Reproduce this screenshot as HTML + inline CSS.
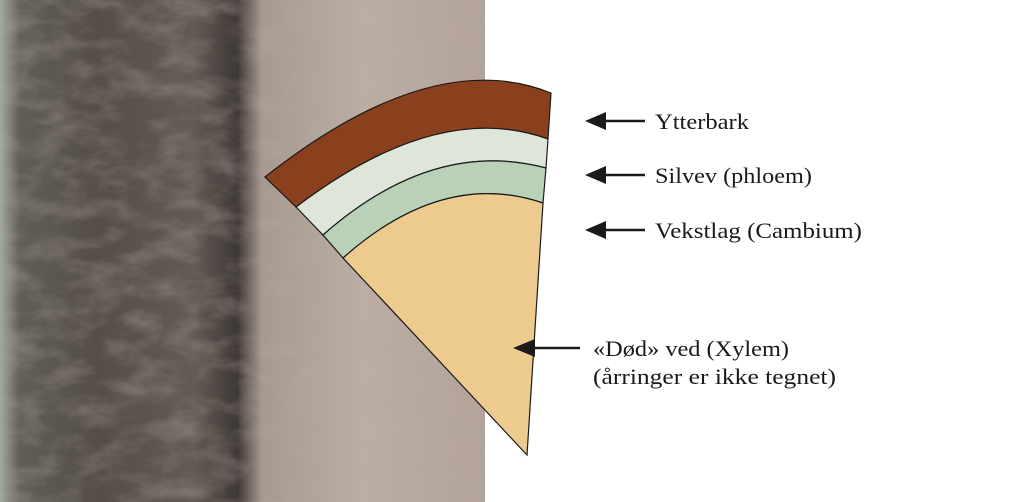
<!DOCTYPE html>
<html><head><meta charset="utf-8"><style>
html,body{margin:0;padding:0;background:#fff;width:1020px;height:502px;overflow:hidden}
svg{display:block}
text{font-family:"Liberation Serif",serif;font-size:22px;fill:#1a1a1a}
</style></head><body>
<svg width="1020" height="502" viewBox="0 0 1020 502" xmlns="http://www.w3.org/2000/svg">
<defs>
<linearGradient id="bark" x1="0" y1="0" x2="1" y2="0">
<stop offset="0" stop-color="#a0aa9e"/>
<stop offset="0.04" stop-color="#625d57"/>
<stop offset="0.2" stop-color="#554e48"/>
<stop offset="0.4" stop-color="#635a54"/>
<stop offset="0.49" stop-color="#3e3835"/>
<stop offset="0.54" stop-color="#a8998f"/>
<stop offset="0.75" stop-color="#bcaea4"/>
<stop offset="1" stop-color="#b3a399"/>
</linearGradient>
<filter id="tex" x="0" y="0" width="1" height="1">
<feTurbulence type="fractalNoise" baseFrequency="0.025 0.05" numOctaves="4" seed="3"/>
<feColorMatrix type="matrix" values="0 0 0 0 0.45  0 0 0 0 0.4  0 0 0 0 0.37  0 0 0 1.4 -0.55"/>
</filter>
</defs>
<rect x="0" y="0" width="485" height="502" fill="url(#bark)"/>
<rect x="0" y="0" width="485" height="502" filter="url(#tex)" opacity="0.55"/>
<g stroke="#1a1a1a" stroke-width="1.2">
<path d="M265,177 Q432,45 551,93 L548,139 Q438,99 296,207 Z" fill="#8a401c"/>
<path d="M296,207 Q438,99 548,139 L546,168 Q433,138 323,235 Z" fill="#dde6d9"/>
<path d="M323,235 Q433,138 546,168 L543,203 Q443,169 343,258 Z" fill="#b9d1b6"/>
<path d="M343,258 Q443,169 543,203 L527,455 Z" fill="#edcb8f"/>
</g>
<g fill="#1a1a1a" stroke="#1a1a1a" stroke-width="2.5">
<line x1="600" y1="121" x2="645" y2="121"/><polygon points="585,121 606,112 606,130" stroke="none"/>
<line x1="600" y1="175" x2="645" y2="175"/><polygon points="585,175 606,166 606,184" stroke="none"/>
<line x1="600" y1="230" x2="645" y2="230"/><polygon points="585,230 606,221 606,239" stroke="none"/>
<line x1="530" y1="348" x2="580" y2="348"/><polygon points="513,348 535,339 535,357" stroke="none"/>
</g>
<text x="655" y="129" textLength="94" lengthAdjust="spacingAndGlyphs">Ytterbark</text>
<text x="655" y="183" textLength="157" lengthAdjust="spacingAndGlyphs">Silvev (phloem)</text>
<text x="655" y="238" textLength="207" lengthAdjust="spacingAndGlyphs">Vekstlag (Cambium)</text>
<text x="593" y="356" textLength="196" lengthAdjust="spacingAndGlyphs">«Død» ved (Xylem)</text>
<text x="593" y="384" textLength="243" lengthAdjust="spacingAndGlyphs">(årringer er ikke tegnet)</text>
</svg>
</body></html>
